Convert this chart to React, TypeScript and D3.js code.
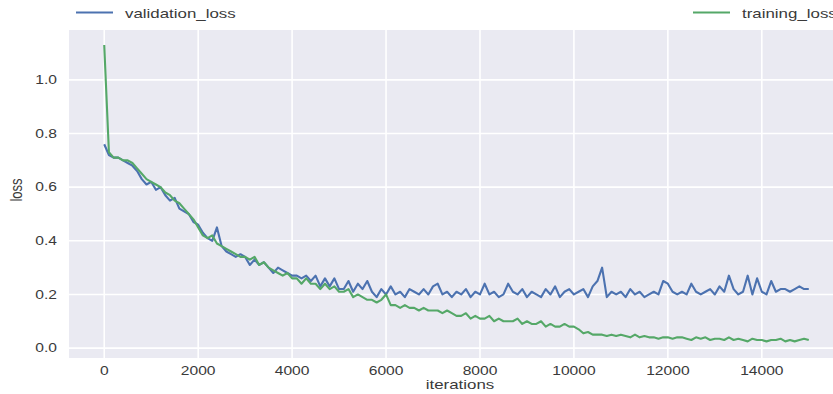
import React, { useEffect, useRef } from 'react';
import * as d3 from 'd3';

// iterations, one sample every 100 steps
const iterations: number[] = d3.range(0, 15001, 100);

const validationLoss: number[] = [
  0.76, 0.72, 0.71, 0.71, 0.70, 0.69, 0.68, 0.66, 0.63, 0.61, 0.62,
  0.59, 0.60, 0.57, 0.55, 0.56, 0.52, 0.51, 0.50, 0.47, 0.46,
  0.43, 0.41, 0.40, 0.45, 0.38, 0.36, 0.35, 0.34, 0.35, 0.34,
  0.31, 0.33, 0.31, 0.32, 0.30, 0.28, 0.30, 0.29, 0.28, 0.27,
  0.27, 0.26, 0.27, 0.25, 0.27, 0.23, 0.26, 0.23, 0.26, 0.22,
  0.22, 0.25, 0.21, 0.24, 0.22, 0.25, 0.21, 0.19, 0.22, 0.20,
  0.23, 0.20, 0.21, 0.19, 0.22, 0.21, 0.20, 0.22, 0.20, 0.23,
  0.24, 0.20, 0.21, 0.19, 0.21, 0.20, 0.22, 0.19, 0.21, 0.20,
  0.24, 0.20, 0.21, 0.19, 0.20, 0.24, 0.21, 0.20, 0.22, 0.19,
  0.21, 0.20, 0.19, 0.22, 0.20, 0.23, 0.19, 0.21, 0.22, 0.20,
  0.21, 0.22, 0.19, 0.23, 0.25, 0.30, 0.19, 0.21, 0.20, 0.21,
  0.19, 0.22, 0.20, 0.21, 0.19, 0.20, 0.21, 0.20, 0.25, 0.24,
  0.21, 0.20, 0.21, 0.20, 0.24, 0.21, 0.20, 0.21, 0.22, 0.20,
  0.23, 0.21, 0.27, 0.22, 0.20, 0.21, 0.27, 0.20, 0.26, 0.21,
  0.20, 0.25, 0.21, 0.22, 0.22, 0.21, 0.22, 0.23, 0.22, 0.22,
];

const trainingLoss: number[] = [
  1.13, 0.73, 0.71, 0.71, 0.70, 0.70, 0.69, 0.67, 0.65, 0.63, 0.62,
  0.61, 0.60, 0.58, 0.57, 0.55, 0.54, 0.52, 0.50, 0.48, 0.45,
  0.42, 0.41, 0.42, 0.39, 0.38, 0.37, 0.36, 0.35, 0.34, 0.34,
  0.33, 0.34, 0.31, 0.32, 0.30, 0.29, 0.28, 0.27, 0.28, 0.26,
  0.26, 0.24, 0.26, 0.24, 0.24, 0.22, 0.24, 0.22, 0.23, 0.21,
  0.21, 0.22, 0.19, 0.20, 0.19, 0.18, 0.18, 0.17, 0.18, 0.20,
  0.16, 0.16, 0.15, 0.16, 0.15, 0.15, 0.14, 0.15, 0.14, 0.14,
  0.14, 0.13, 0.14, 0.13, 0.12, 0.12, 0.13, 0.11, 0.12, 0.11,
  0.11, 0.12, 0.10, 0.11, 0.10, 0.10, 0.10, 0.11, 0.09, 0.10,
  0.09, 0.09, 0.10, 0.08, 0.09, 0.08, 0.08, 0.09, 0.08, 0.08,
  0.07, 0.055, 0.06, 0.05, 0.05, 0.05, 0.045, 0.05, 0.045, 0.05,
  0.045, 0.04, 0.05, 0.04, 0.045, 0.04, 0.04, 0.035, 0.04, 0.04,
  0.035, 0.04, 0.04, 0.035, 0.03, 0.04, 0.035, 0.04, 0.03, 0.035,
  0.035, 0.03, 0.04, 0.03, 0.035, 0.03, 0.025, 0.035, 0.03, 0.03,
  0.025, 0.03, 0.03, 0.035, 0.025, 0.03, 0.025, 0.03, 0.035, 0.03,
];

const xTicks = [0, 2000, 4000, 6000, 8000, 10000, 12000, 14000];
const yTicks = [0.0, 0.2, 0.4, 0.6, 0.8, 1.0];

const W = 833;
const H = 394;
const FONT = '"Liberation Sans", Arial, sans-serif';
const TEXT = '#3a3a3a';
const STRETCH = 1.3; // the picture is widened horizontally

const App = () => {
  const svgRef = useRef<SVGSVGElement>(null);

  useEffect(() => {
    const svg = d3.select(svgRef.current);
    svg.selectAll('*').remove();

    const left = 69, right = 844, top = 30, bottom = 358;
    const x = d3.scaleLinear().domain([-750, 15750]).range([left, right]);
    const y = d3.scaleLinear().domain([-0.037, 1.186]).range([bottom, top]);

    svg.append('rect')
      .attr('x', left).attr('y', top)
      .attr('width', right - left).attr('height', bottom - top)
      .attr('fill', '#EAEAF2');

    // grid
    svg.append('g').selectAll('line').data(xTicks).enter().append('line')
      .attr('x1', d => x(d)).attr('x2', d => x(d))
      .attr('y1', top).attr('y2', bottom)
      .attr('stroke', '#fff').attr('stroke-width', 1.6);
    svg.append('g').selectAll('line').data(yTicks).enter().append('line')
      .attr('x1', left).attr('x2', right)
      .attr('y1', d => y(d)).attr('y2', d => y(d))
      .attr('stroke', '#fff').attr('stroke-width', 1.6);

    const text = (tx: number, ty: number, s: string, anchor: string, size = 12) =>
      svg.append('text')
        .attr('transform', `translate(${tx},${ty}) scale(${STRETCH},1)`)
        .attr('text-anchor', anchor)
        .attr('font-family', FONT)
        .attr('font-size', size)
        .attr('fill', TEXT)
        .text(s);

    xTicks.forEach(t => text(x(t), 375, String(t), 'middle'));
    yTicks.forEach(t => text(57, y(t) + 4.3, d3.format('.1f')(t), 'end'));

    text(460, 389, 'iterations', 'middle', 13);
    svg.append('text')
      .attr('transform', `translate(22,190) rotate(-90) scale(1,${STRETCH})`)
      .attr('text-anchor', 'middle')
      .attr('font-family', FONT)
      .attr('font-size', 13)
      .attr('fill', TEXT)
      .text('loss');

    const line = (vals: number[]) => d3.line<number>()
      .x((_, i) => x(iterations[i]))
      .y(d => y(d))(vals);

    svg.append('path')
      .attr('d', line(validationLoss))
      .attr('fill', 'none')
      .attr('stroke', '#4C72B0')
      .attr('stroke-width', 2.1)
      .attr('stroke-linejoin', 'round');

    svg.append('path')
      .attr('d', line(trainingLoss))
      .attr('fill', 'none')
      .attr('stroke', '#55A868')
      .attr('stroke-width', 2.1)
      .attr('stroke-linejoin', 'round');

    // legends
    const legend = (lx: number, color: string, label: string) => {
      svg.append('line')
        .attr('x1', lx).attr('x2', lx + 37)
        .attr('y1', 12.5).attr('y2', 12.5)
        .attr('stroke', color).attr('stroke-width', 1.8);
      text(lx + 49, 17.5, label, 'start', 13);
    };
    legend(76, '#4C72B0', 'validation_loss');
    legend(693, '#55A868', 'training_loss');
  }, []);

  return (
    <svg
      ref={svgRef}
      width={W}
      height={H}
      style={{ position: 'absolute', left: 0, top: 0, background: '#fff' }}
    />
  );
};

export default App;
